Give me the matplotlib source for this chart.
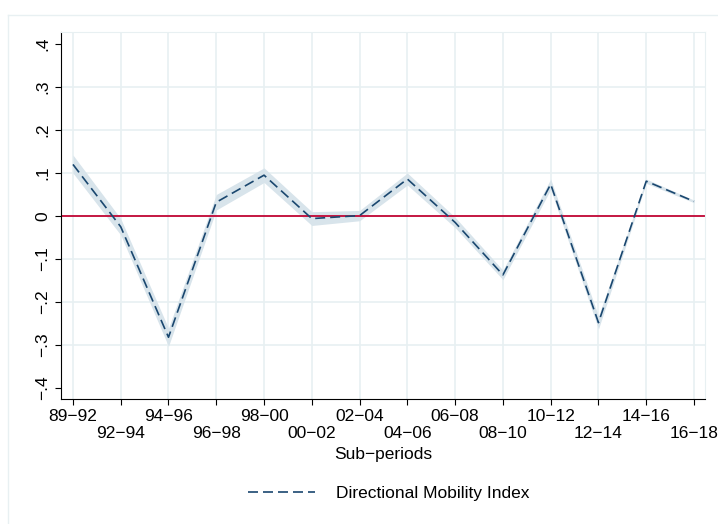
import matplotlib
matplotlib.use("Agg")
import matplotlib.pyplot as plt
from matplotlib.lines import Line2D

# Directional mobility index by sub-period, with confidence band
periods = ["89\u221292", "92\u221294", "94\u221296", "96\u221298", "98\u221200",
           "00\u221202", "02\u221204", "04\u221206", "06\u221208", "08\u221210",
           "10\u221212", "12\u221214", "14\u221216", "16\u221218"]
dmi = [0.120, -0.025, -0.282, 0.032, 0.095, -0.006, 0.001, 0.086,
       -0.015, -0.137, 0.074, -0.248, 0.081, 0.034]
ci_lo = [0.100, -0.044, -0.303, 0.014, 0.078, -0.022, -0.011, 0.072,
         -0.027, -0.148, 0.062, -0.263, 0.076, 0.031]
ci_hi = [0.142, -0.006, -0.261, 0.050, 0.112, 0.010, 0.013, 0.100,
         -0.003, -0.126, 0.086, -0.233, 0.086, 0.037]
yticks = [-0.4, -0.3, -0.2, -0.1, 0, 0.1, 0.2, 0.3, 0.4]
ytick_labels = ["\u2212.4", "\u2212.3", "\u2212.2", "\u2212.1", "0", ".1", ".2", ".3", ".4"]

navy = "#1a476f"
band = "#d8e4eb"
grid = "#e8f0f2"
cranberry = "#c10534"

plt.rcParams["font.family"] = ["Liberation Sans", "DejaVu Sans"]
plt.rcParams["font.size"] = 12.5

fig = plt.figure(figsize=(7.18, 5.24), dpi=100)
ax = fig.add_axes([61 / 718, 125 / 524, 644 / 718, 367 / 524])

x = list(range(len(periods)))

# light frame around the whole graph region
fig.add_artist(Line2D([8 / 718, 8 / 718], [0, 509 / 524], color=grid, lw=1.0))
fig.add_artist(Line2D([8 / 718, 1], [509 / 524, 509 / 524], color=grid, lw=1.0))

# grid: vertical at every period, horizontal inside the limits
for xi in x:
    ax.axvline(xi, color=grid, lw=1.2, zorder=0)
for yv in yticks[1:-1]:
    ax.axhline(yv, color=grid, lw=1.2, zorder=0)

ax.fill_between(x, ci_lo, ci_hi, color=band, lw=0, zorder=1)
ax.axhline(0, color=cranberry, lw=1.3, zorder=2)
ax.plot(x, dmi, color=navy, lw=1.2, dashes=(6, 3), zorder=3)

ax.set_xlim(-0.25, 13.23)
ax.set_ylim(-0.4256, 0.428)

# even periods on the first row, odd ones staggered below
ax.set_xticks(x[0::2])
ax.set_xticklabels(periods[0::2])
ax.set_xticks(x[1::2], minor=True)
ax.set_xticklabels(periods[1::2], minor=True)
ax.tick_params(axis="x", which="major", length=4, width=0.8, pad=3.5, color="black")
ax.tick_params(axis="x", which="minor", length=4, width=0.8, pad=15.5, color="black")

ax.set_yticks(yticks)
ax.set_yticklabels(ytick_labels, rotation=90, va="center")
ax.tick_params(axis="y", length=4, width=0.8, pad=4, color="black")

ax.spines["left"].set_linewidth(0.8)
ax.spines["bottom"].set_linewidth(0.8)
ax.spines["top"].set_color(grid)
ax.spines["right"].set_color(grid)

ax.set_xlabel("Sub\u2212periods", labelpad=4.5)

handle = Line2D([], [], color=navy, lw=1.2, dashes=(6, 3))
fig.legend([handle], ["Directional Mobility Index"], loc="center",
           bbox_to_anchor=(389 / 718, 31 / 524), frameon=False,
           handlelength=3.85, handletextpad=1.2)

fig.savefig("out.png", dpi=100)
